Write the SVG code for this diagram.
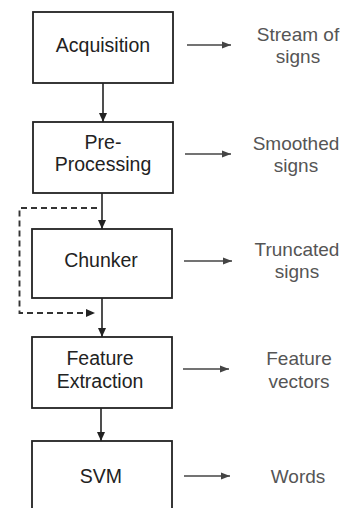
<svg xmlns="http://www.w3.org/2000/svg" width="342" height="508" viewBox="0 0 342 508">
<defs>
<style>
.box{fill:#fff;stroke:#222;stroke-width:1.8}
.nt{font-family:"Liberation Sans",Arial,sans-serif;font-size:19.5px;fill:#222;text-anchor:middle}
.lt{font-family:"Liberation Sans",Arial,sans-serif;font-size:19px;fill:#555;text-anchor:middle}
.ln{stroke:#222;stroke-width:1.6;fill:none}
.rl{stroke:#444;stroke-width:1.6;fill:none}
.dl{stroke:#333;stroke-width:1.9;fill:none;stroke-dasharray:6 4}
</style>
<marker id="ah" markerWidth="10" markerHeight="8" refX="9" refY="4" orient="auto" markerUnits="userSpaceOnUse">
<path d="M0,0 L9,4 L0,8 Z" fill="#222"/>
</marker>
<marker id="ahg" markerWidth="10" markerHeight="8" refX="9" refY="4" orient="auto" markerUnits="userSpaceOnUse">
<path d="M0,0.5 L9,4 L0,7.5 Z" fill="#444"/>
</marker>
</defs>
<rect width="342" height="508" fill="#fff"/>
<g id="connectors">
<line class="ln" x1="103" y1="83" x2="103" y2="122" marker-end="url(#ah)"/>
<line class="ln" x1="102" y1="193" x2="102" y2="229" marker-end="url(#ah)"/>
<line class="ln" x1="102" y1="298" x2="102" y2="337" marker-end="url(#ah)"/>
<line class="ln" x1="101" y1="408" x2="101" y2="441" marker-end="url(#ah)"/>
<path class="dl" d="M97,208 H19.5 V313 H95" marker-end="url(#ah)"/>
<line class="rl" x1="187" y1="45" x2="231" y2="45" marker-end="url(#ahg)"/>
<line class="rl" x1="185" y1="154" x2="231" y2="154" marker-end="url(#ahg)"/>
<line class="rl" x1="184" y1="261" x2="232" y2="261" marker-end="url(#ahg)"/>
<line class="rl" x1="183" y1="369" x2="229" y2="369" marker-end="url(#ahg)"/>
<line class="rl" x1="184" y1="476" x2="230" y2="476" marker-end="url(#ahg)"/>
</g>
<g id="acquisition">
<rect class="box" x="33" y="12" width="140" height="71"/>
<text class="nt" x="103" y="52">Acquisition</text>
</g>
<g id="preprocessing">
<rect class="box" x="33" y="122" width="140" height="71"/>
<text class="nt" x="103" y="149">Pre-</text>
<text class="nt" x="103" y="171">Processing</text>
</g>
<g id="chunker">
<rect class="box" x="32" y="229" width="140" height="69"/>
<text class="nt" x="101" y="267">Chunker</text>
</g>
<g id="feature-extraction">
<rect class="box" x="32" y="337" width="140" height="71"/>
<text class="nt" x="100" y="365">Feature</text>
<text class="nt" x="100" y="388">Extraction</text>
</g>
<g id="svm">
<rect class="box" x="32" y="441" width="140" height="75"/>
<text class="nt" x="101" y="483">SVM</text>
</g>
<g id="label-stream">
<text class="lt" x="298" y="41">Stream of</text>
<text class="lt" x="298" y="63">signs</text>
</g>
<g id="label-smoothed">
<text class="lt" x="296" y="150">Smoothed</text>
<text class="lt" x="296" y="172">signs</text>
</g>
<g id="label-truncated">
<text class="lt" x="297" y="256">Truncated</text>
<text class="lt" x="297" y="278">signs</text>
</g>
<g id="label-feature">
<text class="lt" x="299" y="365">Feature</text>
<text class="lt" x="299" y="388">vectors</text>
</g>
<g id="label-words">
<text class="lt" x="298" y="483">Words</text>
</g>
</svg>
